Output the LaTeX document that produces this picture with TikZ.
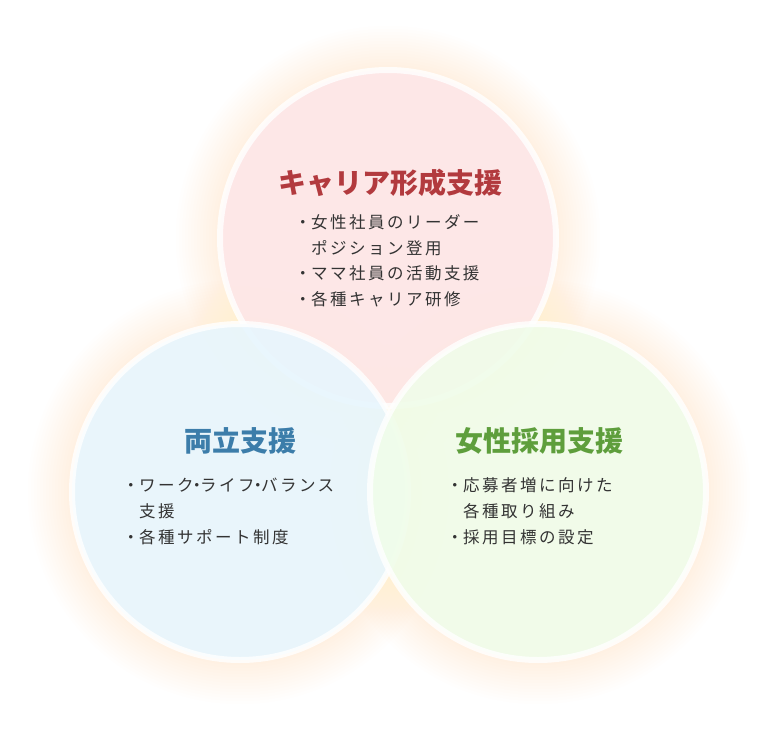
\documentclass[tikz,border=0pt]{standalone}
\usepackage{fontspec}
\setmainfont{Noto Sans CJK JP}
\newfontfamily\jpbody[LetterSpace=15]{Noto Sans CJK JP}
\newfontfamily\jptitle{Noto Sans CJK JP}
\definecolor{glowc}{HTML}{FFF0B4}
\definecolor{pinkf}{HTML}{FDE7E8}
\definecolor{bluef}{HTML}{E7F6FE}
\definecolor{greenf}{HTML}{F0FDEA}
\definecolor{redt}{HTML}{B23A3E}
\definecolor{bluet}{HTML}{3C7DAA}
\definecolor{greent}{HTML}{5E9E3C}
\definecolor{bodyt}{HTML}{333333}
\tikzset{
  ttl/.style={font=\jptitle\fontsize{28}{32}\selectfont\bfseries, inner sep=0pt, anchor=center},
  item/.style={font=\jpbody\fontsize{16.5}{20}\selectfont, text=bodyt, inner sep=0pt, anchor=west},
  disc/.style={fill=#1, fill opacity=0.9, draw=white, draw opacity=0.8, line width=6pt},
}
\newcommand{\bul}{\llap{・}}
\begin{document}
\begin{tikzpicture}[x=1pt,y=-1pt]
\useasboundingbox (0,0) rectangle (777,731);
\fill[white] (0,0) rectangle (777,731);
% centres
\coordinate (ct) at (388,238);
\coordinate (cl) at (240,492);
\coordinate (cr) at (538,492);
% glow
\foreach \c in {ct,cl,cr}{
  \foreach \k in {1,...,14}{
    \fill[glowc, opacity=0.022] (\c) circle ({170+\k*3});
  }
}
% discs
\draw[disc=pinkf] (ct) circle (168);
\draw[disc=bluef] (cl) circle (168);
\draw[disc=greenf] (cr) circle (168);
% top texts
\node[ttl, text=redt] (t1) at (390,183) {キャリア形成支援};
\node[item] (t1a) at (311,222) {\bul 女性社員のリーダー};
\node[item] (t1b) at (311,248) {ポジション登用};
\node[item] (t1c) at (311,273) {\bul ママ社員の活動支援};
\node[item] (t1d) at (311,299) {\bul 各種キャリア研修};
% left texts
\node[ttl, text=bluet] (t2) at (240,441) {両立支援};
\node[item] (t2a) at (139,485) {\bul ワーク\kern-5pt・\kern-5ptライフ\kern-5pt・\kern-5ptバランス};
\node[item] (t2b) at (139,511) {支援};
\node[item] (t2c) at (139,537) {\bul 各種サポート制度};
% right texts
\node[ttl, text=greent] (t3) at (539,441) {女性採用支援};
\node[item] (t3a) at (463,485) {\bul 応募者増に向けた};
\node[item] (t3b) at (463,511) {各種取り組み};
\node[item] (t3c) at (463,537) {\bul 採用目標の設定};
\end{tikzpicture}
\end{document}
